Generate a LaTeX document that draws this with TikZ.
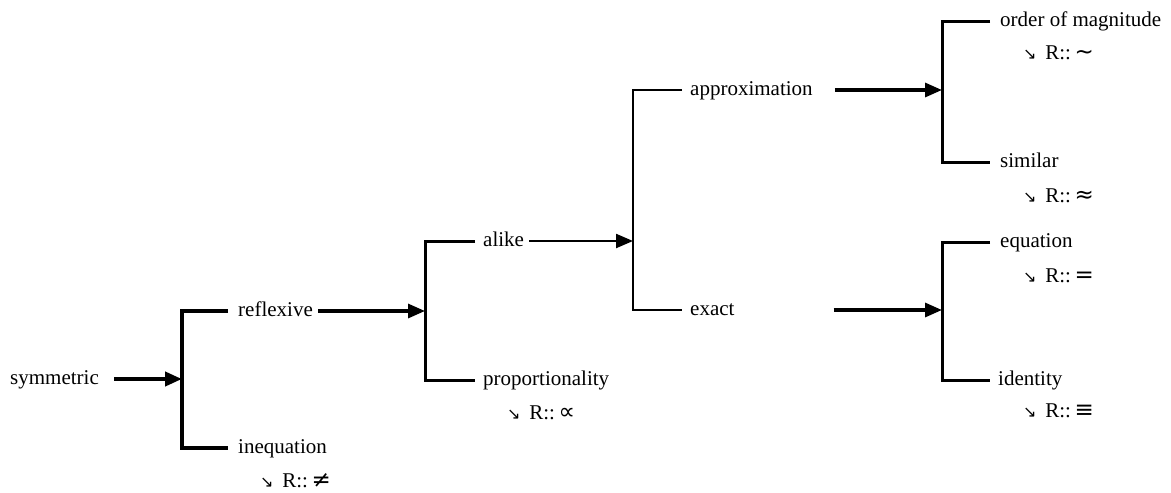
\documentclass[tikz,border=0pt]{standalone}
\usepackage{fontspec}
\setmainfont{Liberation Serif}
\newfontfamily\symfont{DejaVu Sans}
\usetikzlibrary{arrows.meta}
\newcommand\relR[1]{{\symfont\fontsize{16}{16}\selectfont ↘}\ \,R::\,{\symfont\fontsize{23}{23}\selectfont #1}}
\begin{document}
\begin{tikzpicture}[x=1pt,y=-1pt,
  lbl/.style={font=\fontsize{21}{25}\selectfont, anchor=west, inner sep=0pt,
              text height=15pt, text depth=5pt},
  arr/.style={-{Triangle[length=17pt,width=14pt]}},
  brk/.style={line join=miter}]
\useasboundingbox (0,0) rectangle (1171,493);

% bracket junction coordinates
\coordinate (b1) at (182,379);
\coordinate (b2) at (425,310);
\coordinate (b3) at (633,241);
\coordinate (b4) at (942,90);
\coordinate (b5) at (942,310);

% labels
\node[lbl] (symmetric) at (10,379) {symmetric};
\node[lbl] (reflexive) at (238,311) {reflexive};
\node[lbl] (inequation) at (238,448) {inequation};
\node[lbl] (neq) at (260,482) {\relR{≠}};
\node[lbl] (alike) at (483,241) {alike};
\node[lbl] (proportionality) at (483,380) {proportionality};
\node[lbl] (propto) at (507,414) {\relR{∝}};
\node[lbl] (approximation) at (690,90) {approximation};
\node[lbl] (exact) at (690,310) {exact};
\node[lbl] (order) at (1000,21) {order of magnitude};
\node[lbl] (sim) at (1023,54) {\relR{∼}};
\node[lbl] (similar) at (1000,162) {similar};
\node[lbl] (approx) at (1023,197) {\relR{≈}};
\node[lbl] (equation) at (1000,242) {equation};
\node[lbl] (eq) at (1023,277) {\relR{=}};
\node[lbl] (identity) at (998,380) {identity};
\node[lbl] (equiv) at (1023,412) {\relR{≡}};

% arrows
\draw[arr, line width=4pt] ([xshift=15pt]symmetric.east) -- (symmetric.east -| b1);
\draw[arr, line width=3.2pt] ([xshift=5pt]reflexive.east) -- (reflexive.east -| b2);
\draw[arr, line width=2.3pt] ([xshift=5pt]alike.east) -- (alike.east -| b3);
\draw[arr, line width=3.2pt] ([xshift=22pt]approximation.east) -- (approximation.east -| b4);
\draw[arr, line width=3.2pt] ([xshift=99pt]exact.east) -- (exact.east -| b5);

% brackets
\draw[brk, line width=4pt] ([xshift=-10pt]reflexive.west) -| (b1) |- ([xshift=-10pt]inequation.west);
\draw[brk, line width=3pt] ([xshift=-8pt]alike.west) -| (b2) |- ([xshift=-8pt]proportionality.west);
\draw[brk, line width=2.2pt] ([xshift=-8pt]approximation.west) -| (b3) |- ([xshift=-8pt]exact.west);
\draw[brk, line width=3pt] ([xshift=-10pt]order.west) -| (b4) |- ([xshift=-10pt]similar.west);
\draw[brk, line width=3pt] ([xshift=-10pt]equation.west) -| (b5) |- ([xshift=-8pt]identity.west);
\end{tikzpicture}
\end{document}
